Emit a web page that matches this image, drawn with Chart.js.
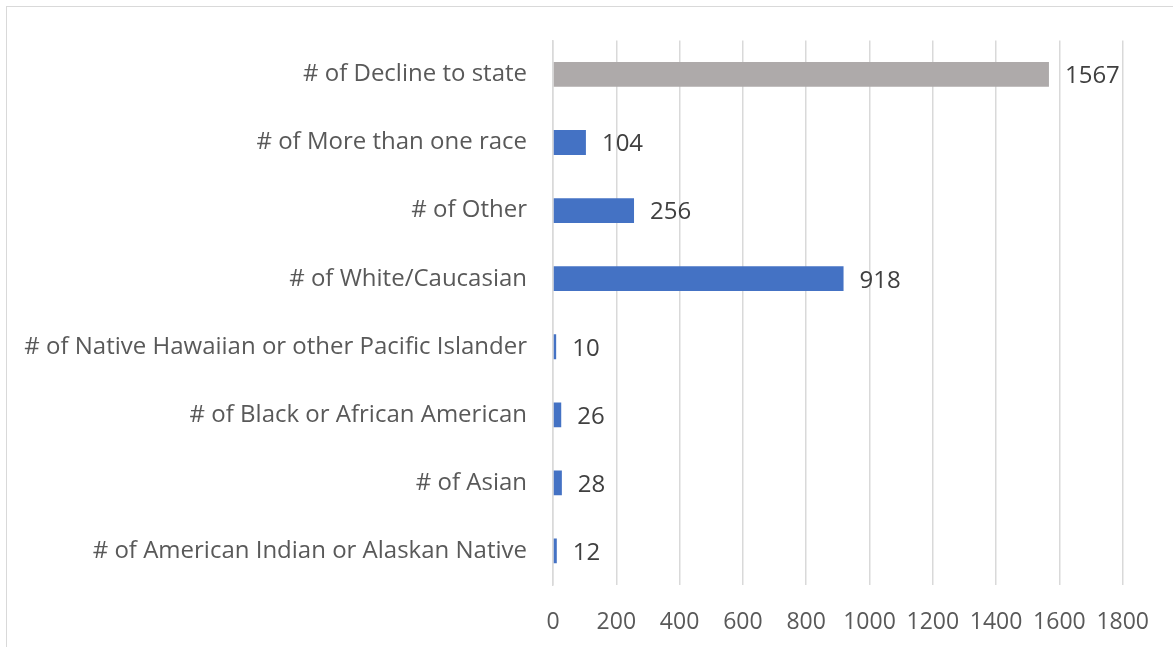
<!DOCTYPE html>
<html>
<head>
<meta charset="utf-8">
<script src="https://cdn.jsdelivr.net/npm/chart.js@4"></script>
<style>
  html, body { margin: 0; padding: 0; background: #fff; overflow: hidden; }
  #frame { position: absolute; left: 6px; top: 6px; width: 1300px; height: 800px; border: 1.5px solid #d9d9d9; }
  #wrap { position: absolute; left: 0; top: 0; width: 1173px; height: 647px; }
</style>
</head>
<body>
<div id="frame"></div>
<div id="wrap"><canvas id="chart"></canvas></div>
<script>
const categories = [
  "# of Decline to state",
  "# of More than one race",
  "# of Other",
  "# of White/Caucasian",
  "# of Native Hawaiian or other Pacific Islander",
  "# of Black or African American",
  "# of Asian",
  "# of American Indian or Alaskan Native"
];
const counts = [1567, 104, 256, 918, 10, 26, 28, 12];
const barColors = ["#aeaaaa", "#4472c4", "#4472c4", "#4472c4", "#4472c4", "#4472c4", "#4472c4", "#4472c4"];
const xTicks = [0, 200, 400, 600, 800, 1000, 1200, 1400, 1600, 1800];

const FONT = "'Open Sans', 'Noto Sans', sans-serif";

// value labels at the end of each bar
const valueLabels = {
  id: "valueLabels",
  afterDatasetsDraw(chart) {
    const ctx = chart.ctx;
    const meta = chart.getDatasetMeta(0);
    ctx.save();
    ctx.font = "24px " + FONT;
    ctx.fillStyle = "#404040";
    ctx.textAlign = "left";
    ctx.textBaseline = "middle";
    meta.data.forEach((bar, i) => {
      ctx.fillText(String(counts[i]), bar.x + 16, bar.y + 2);
    });
    ctx.restore();
  }
};

new Chart(document.getElementById("chart"), {
  type: "bar",
  data: {
    labels: categories,
    datasets: [{
      data: counts,
      backgroundColor: barColors,
      borderWidth: 0,
      categoryPercentage: 1,
      barPercentage: 0.364
    }]
  },
  options: {
    indexAxis: "y",
    responsive: true,
    maintainAspectRatio: false,
    animation: false,
    layout: { padding: { top: 31, right: 47, left: 0, bottom: 0 } },
    plugins: { legend: { display: false }, tooltip: { enabled: false } },
    scales: {
      x: {
        min: 0, max: 1800,
        afterBuildTicks: (axis) => { axis.ticks = xTicks.map(v => ({ value: v })); },
        afterFit: (axis) => { axis.height = 62; },
        grid: { color: "#d9d9d9", lineWidth: 1.5, drawTicks: false },
        border: { display: false },
        ticks: {
          color: "#595959", font: { family: FONT, size: 23 }, padding: 24,
          maxRotation: 0, autoSkip: false,
          callback: (v) => String(v)
        }
      },
      y: {
        afterFit: (axis) => { axis.width = 553; },
        grid: { display: false, drawTicks: false },
        border: { display: true, color: "#d9d9d9", width: 1.5 },
        ticks: { color: "#595959", font: { family: FONT, size: 24 }, padding: 26, autoSkip: false }
      }
    }
  },
  plugins: [valueLabels]
});
</script>
</body>
</html>
